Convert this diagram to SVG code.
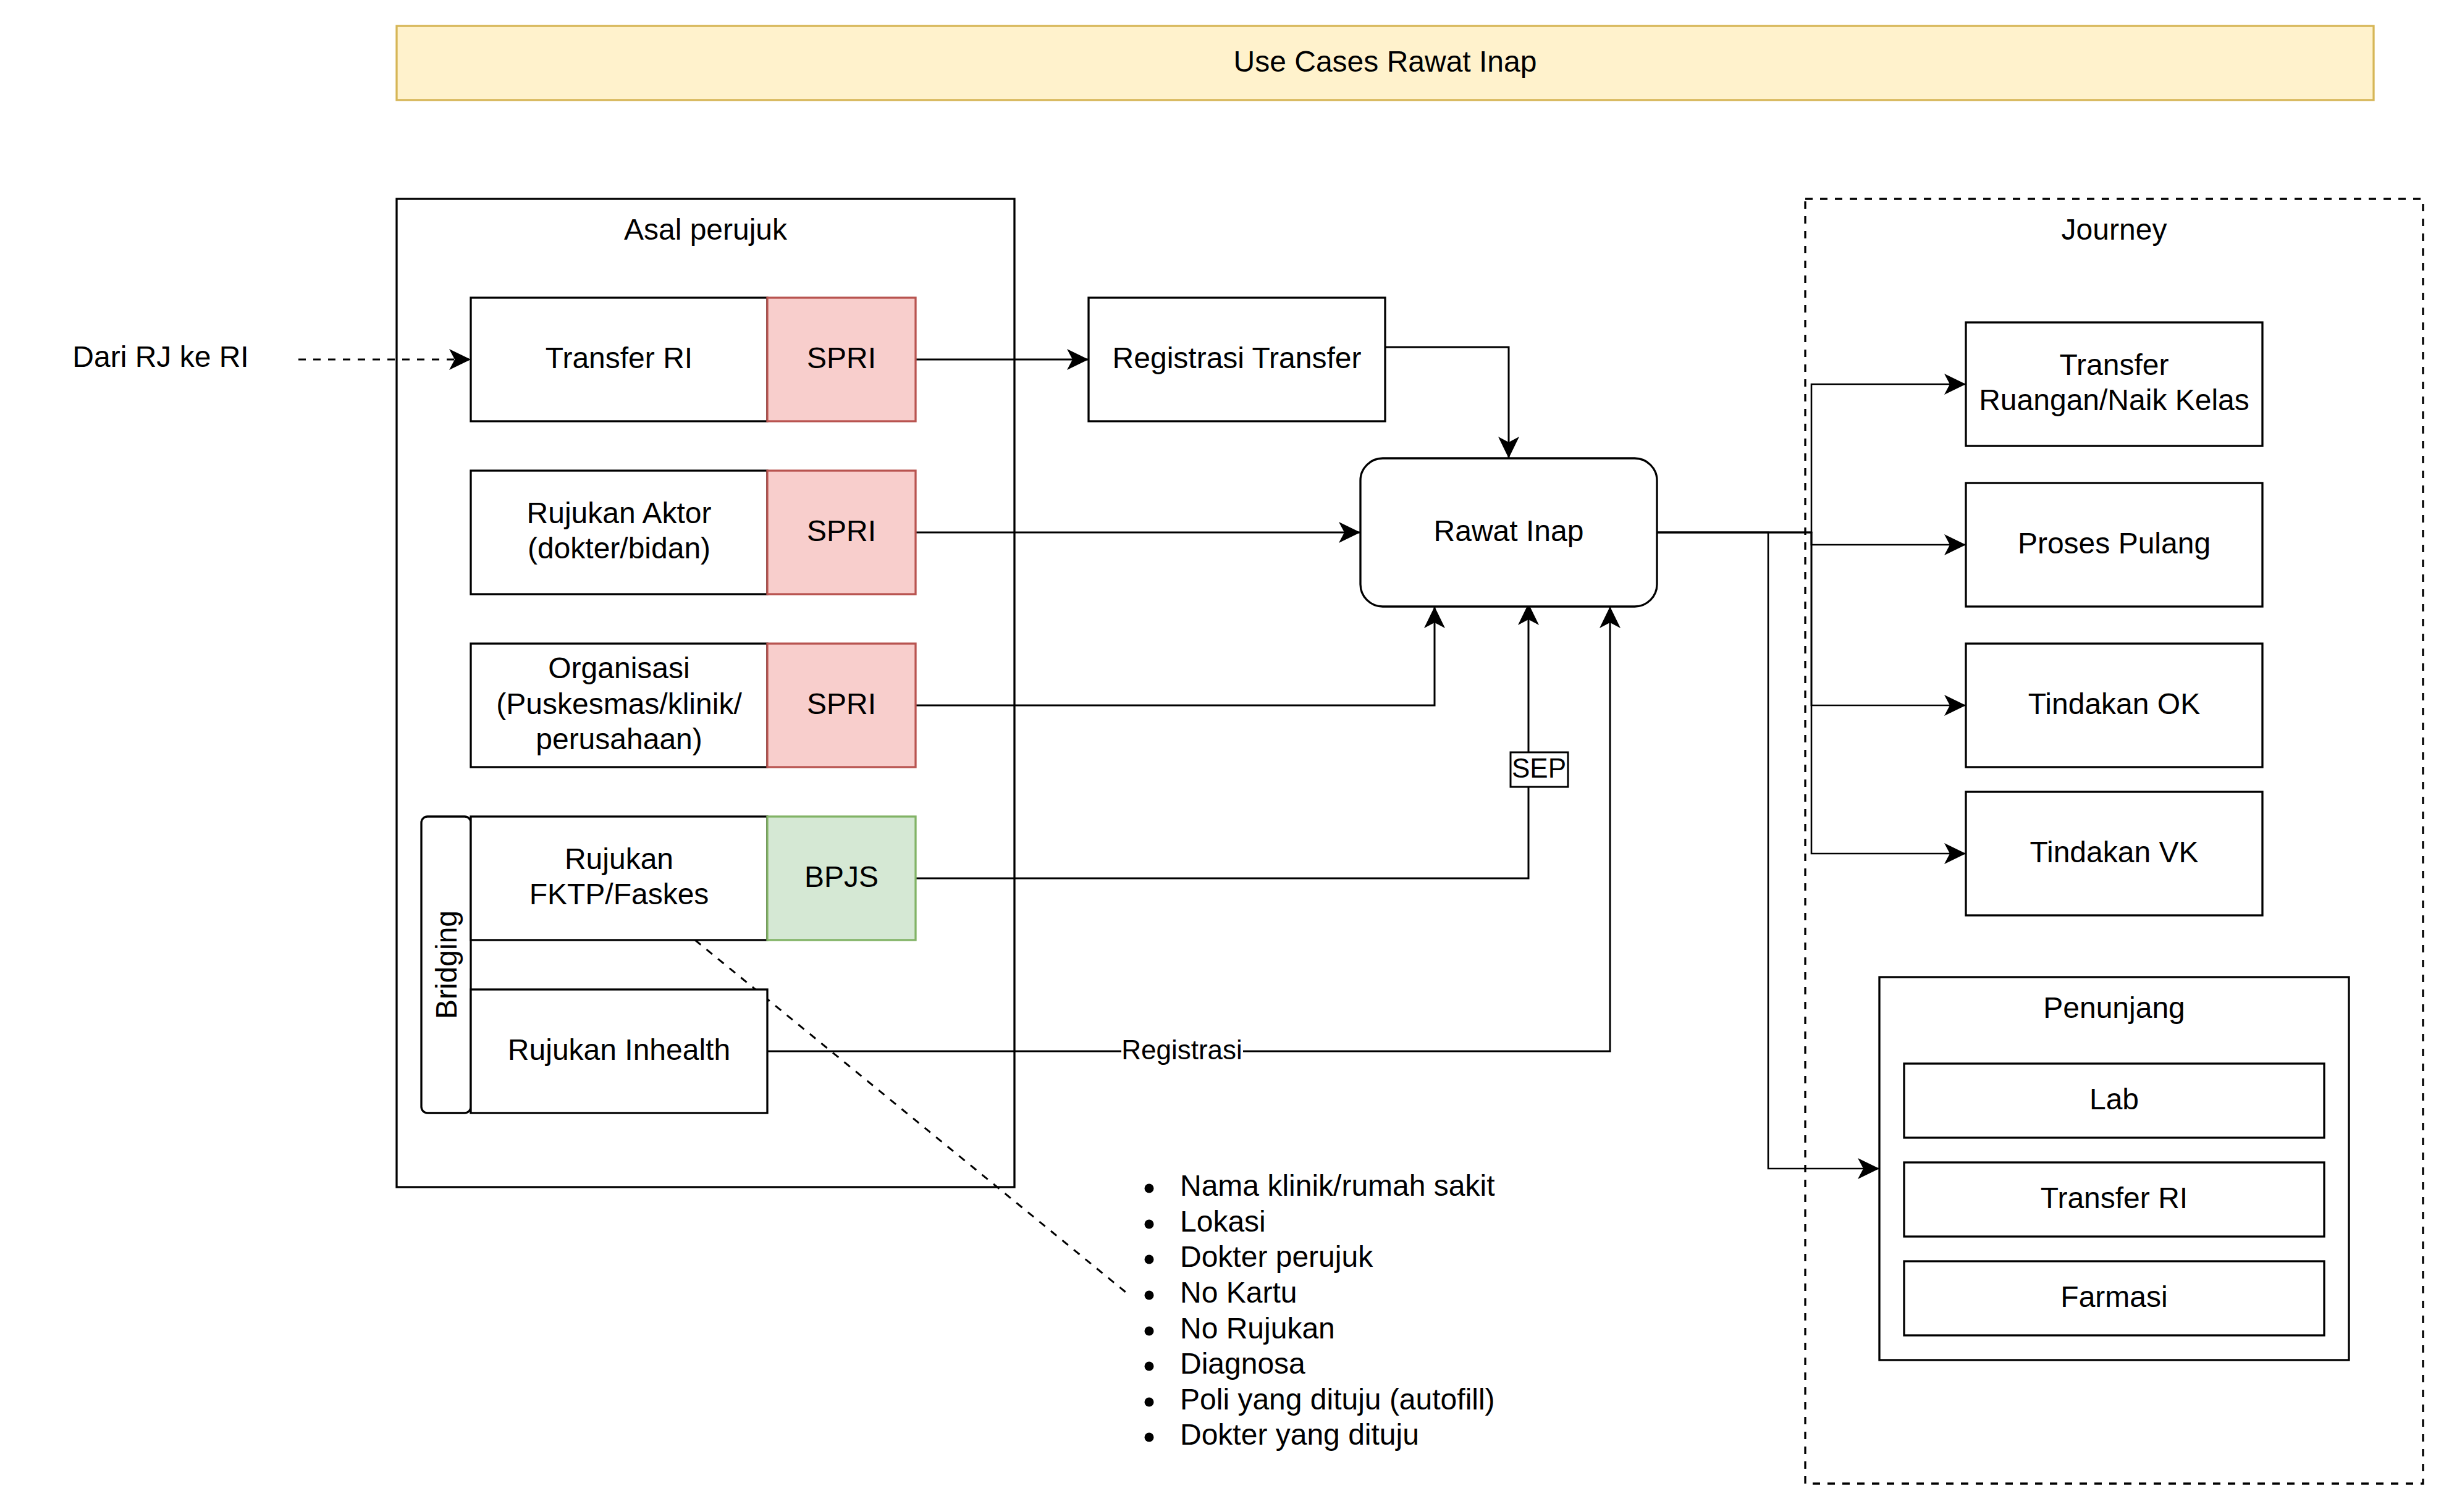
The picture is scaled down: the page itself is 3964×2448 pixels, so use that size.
<svg xmlns="http://www.w3.org/2000/svg" width="3964" height="2448" viewBox="0 0 3964 2448">
<defs>
<style>
.bg{fill:#ffffff}
.box{fill:#ffffff;stroke:#000000;stroke-width:3.3}
.cont{fill:none;stroke:#000000;stroke-width:3.3}
.dashbox{fill:none;stroke:#000000;stroke-width:3.3;stroke-dasharray:12 12}
.spri{fill:#f8cecc;stroke:#b85450;stroke-width:3.3}
.bpjs{fill:#d5e8d4;stroke:#82b366;stroke-width:3.3}
.title{fill:#fff2cc;stroke:#d6b656;stroke-width:3.3}
.t{font-family:"Liberation Sans",Arial,Helvetica,sans-serif;font-size:48px;fill:#000000;text-anchor:middle}
.tl{font-family:"Liberation Sans",Arial,Helvetica,sans-serif;font-size:48px;fill:#000000;text-anchor:start}
.lbl{font-family:"Liberation Sans",Arial,Helvetica,sans-serif;font-size:44px;fill:#000000;text-anchor:middle}
.e{fill:none;stroke:#000000;stroke-width:3}
.e2{fill:none;stroke:#000000;stroke-width:2.6}
.ed{fill:none;stroke:#000000;stroke-width:3;stroke-dasharray:12 12}
.a{marker-end:url(#arrow)}
</style>
<marker id="arrow" markerUnits="userSpaceOnUse" markerWidth="44" markerHeight="44" viewBox="-40 -22 44 44" refX="0" refY="0" orient="auto">
<path d="M0,0 L-35,-17 L-26,0 L-35,17 Z" fill="#000000"/>
</marker>
</defs>
<rect class="bg" x="0" y="0" width="3964" height="2448"/>

<g id="title">
<rect class="title" x="642" y="42" width="3200" height="120"/>
<text class="t" x="2242" y="116">Use Cases Rawat Inap</text>
</g>

<g id="asal-perujuk">
<rect class="cont" x="642" y="322" width="1000" height="1600"/>
<text class="t" x="1142" y="388">Asal perujuk</text>
</g>

<g id="journey">
<rect class="dashbox" x="2922" y="322" width="1000" height="2080"/>
<text class="t" x="3422" y="388">Journey</text>
</g>

<g id="connectors">
<path class="ed a" d="M483,582 H762"/>
<path class="e a" d="M1482,582 H1762"/>
<path class="e a" d="M2242,562 H2442 V742"/>
<path class="e a" d="M1482,862 H2202"/>
<path class="e a" d="M1482,1142 H2322 V982"/>
<path class="e a" d="M1482,1422 H2474 V977"/>
<path class="e a" d="M1242,1702 H2606 V982"/>
<path class="e2 a" d="M2682,862 H2932 V622 H3182"/>
<path class="e2 a" d="M2682,862 H2932 V882 H3182"/>
<path class="e2 a" d="M2682,862 H2932 V1142 H3182"/>
<path class="e2 a" d="M2682,862 H2932 V1382 H3182"/>
<path class="e2 a" d="M2682,862 H2862 V1892 H3042"/>
<path class="ed" d="M1125,1522 L1822,2092"/>
<g id="label-sep">
<rect x="2445" y="1218" width="93" height="56" fill="#ffffff" stroke="#000000" stroke-width="3"/>
<text class="lbl" x="2491" y="1259">SEP</text>
</g>
<g id="label-registrasi">
<rect x="1815" y="1678" width="197" height="50" fill="#ffffff"/>
<text class="lbl" x="1913" y="1715">Registrasi</text>
</g>
</g>

<g id="dari-rj-ke-ri">
<text class="t" x="260" y="594">Dari RJ ke RI</text>
</g>

<g id="transfer-ri">
<rect class="box" x="762" y="482" width="480" height="200"/>
<text class="t" x="1002" y="596">Transfer RI</text>
</g>
<g id="spri-1">
<rect class="spri" x="1242" y="482" width="240" height="200"/>
<text class="t" x="1362" y="596">SPRI</text>
</g>

<g id="rujukan-aktor">
<rect class="box" x="762" y="762" width="480" height="200"/>
<text class="t" x="1002" y="847">Rujukan Aktor</text>
<text class="t" x="1002" y="904">(dokter/bidan)</text>
</g>
<g id="spri-2">
<rect class="spri" x="1242" y="762" width="240" height="200"/>
<text class="t" x="1362" y="876">SPRI</text>
</g>

<g id="organisasi">
<rect class="box" x="762" y="1042" width="480" height="200"/>
<text class="t" x="1002" y="1098">Organisasi</text>
<text class="t" x="1002" y="1156">(Puskesmas/klinik/</text>
<text class="t" x="1002" y="1213">perusahaan)</text>
</g>
<g id="spri-3">
<rect class="spri" x="1242" y="1042" width="240" height="200"/>
<text class="t" x="1362" y="1156">SPRI</text>
</g>

<g id="bridging">
<rect class="box" x="682" y="1322" width="80" height="480" rx="10" ry="10"/>
<text class="t" x="722" y="1579" transform="rotate(-90 722 1562)">Bridging</text>
</g>

<g id="rujukan-fktp">
<rect class="box" x="762" y="1322" width="480" height="200"/>
<text class="t" x="1002" y="1407">Rujukan</text>
<text class="t" x="1002" y="1464">FKTP/Faskes</text>
</g>
<g id="bpjs">
<rect class="bpjs" x="1242" y="1322" width="240" height="200"/>
<text class="t" x="1362" y="1436">BPJS</text>
</g>

<g id="rujukan-inhealth">
<rect class="box" x="762" y="1602" width="480" height="200"/>
<text class="t" x="1002" y="1716">Rujukan Inhealth</text>
</g>

<g id="registrasi-transfer">
<rect class="box" x="1762" y="482" width="480" height="200"/>
<text class="t" x="2002" y="596">Registrasi Transfer</text>
</g>

<g id="rawat-inap">
<rect class="box" x="2202" y="742" width="480" height="240" rx="36" ry="36"/>
<text class="t" x="2442" y="876">Rawat Inap</text>
</g>

<g id="transfer-ruangan">
<rect class="box" x="3182" y="522" width="480" height="200"/>
<text class="t" x="3422" y="607">Transfer</text>
<text class="t" x="3422" y="664">Ruangan/Naik Kelas</text>
</g>
<g id="proses-pulang">
<rect class="box" x="3182" y="782" width="480" height="200"/>
<text class="t" x="3422" y="896">Proses Pulang</text>
</g>
<g id="tindakan-ok">
<rect class="box" x="3182" y="1042" width="480" height="200"/>
<text class="t" x="3422" y="1156">Tindakan OK</text>
</g>
<g id="tindakan-vk">
<rect class="box" x="3182" y="1282" width="480" height="200"/>
<text class="t" x="3422" y="1396">Tindakan VK</text>
</g>

<g id="penunjang">
<rect class="box" x="3042" y="1582" width="760" height="620"/>
<text class="t" x="3422" y="1648">Penunjang</text>
</g>
<g id="lab">
<rect class="box" x="3082" y="1722" width="680" height="120"/>
<text class="t" x="3422" y="1796">Lab</text>
</g>
<g id="transfer-ri-penunjang">
<rect class="box" x="3082" y="1882" width="680" height="120"/>
<text class="t" x="3422" y="1956">Transfer RI</text>
</g>
<g id="farmasi">
<rect class="box" x="3082" y="2042" width="680" height="120"/>
<text class="t" x="3422" y="2116">Farmasi</text>
</g>

<g id="data-list">
<circle cx="1860" cy="1924" r="7.5"/>
<circle cx="1860" cy="1982" r="7.5"/>
<circle cx="1860" cy="2039" r="7.5"/>
<circle cx="1860" cy="2097" r="7.5"/>
<circle cx="1860" cy="2155" r="7.5"/>
<circle cx="1860" cy="2212" r="7.5"/>
<circle cx="1860" cy="2270" r="7.5"/>
<circle cx="1860" cy="2327" r="7.5"/>
<text class="tl" x="1910" y="1936">Nama klinik/rumah sakit</text>
<text class="tl" x="1910" y="1994">Lokasi</text>
<text class="tl" x="1910" y="2051">Dokter perujuk</text>
<text class="tl" x="1910" y="2109">No Kartu</text>
<text class="tl" x="1910" y="2167">No Rujukan</text>
<text class="tl" x="1910" y="2224">Diagnosa</text>
<text class="tl" x="1910" y="2282">Poli yang dituju (autofill)</text>
<text class="tl" x="1910" y="2339">Dokter yang dituju</text>
</g>
</svg>
